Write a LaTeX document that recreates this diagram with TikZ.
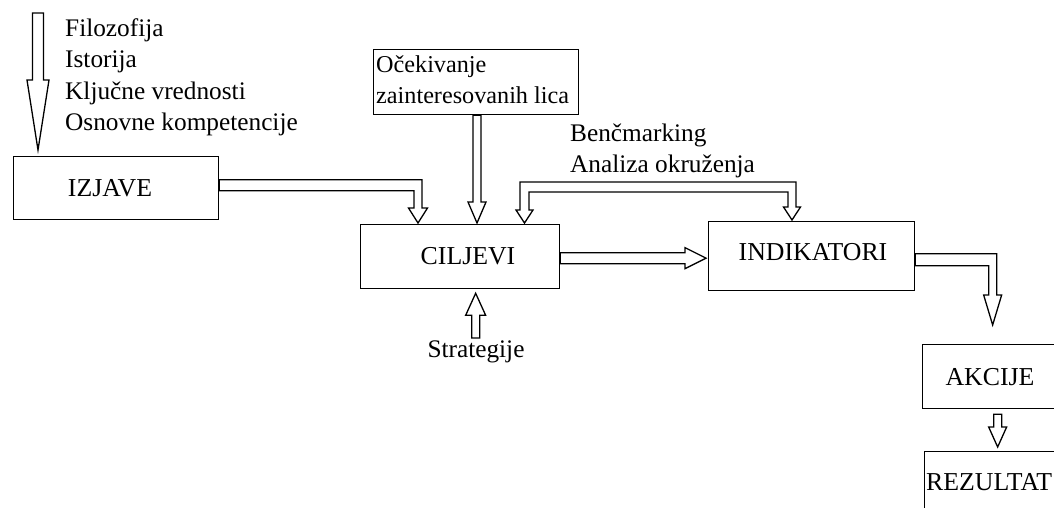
\documentclass[tikz,border=0pt]{standalone}
\usepackage{fontspec}
\setmainfont{Liberation Serif}
\usetikzlibrary{calc}

\tikzset{
  box/.style={draw, line width=1.3pt, inner sep=0pt, anchor=north west},
  txt/.style={inner sep=0pt, font=\fontsize{25.3}{30}\selectfont},
  boxtext/.style={inner sep=0pt, font=\fontsize{24.2}{30}\selectfont},
  boxlabel/.style={inner sep=0pt, font=\fontsize{25.8}{30}\selectfont},
  blk/.style={draw, line width=1.3pt, line join=miter},
}

% block arrow pointing down: tail, tip, shaft half width, head half width, head length
\newcommand\blkdown[5]{\draw[blk] let \p1=(#1), \p2=(#2) in
  (\x2-#3,\y1) -- (\x2-#3,\y2+#5) -- (\x2-#4,\y2+#5) -- (\p2) --
  (\x2+#4,\y2+#5) -- (\x2+#3,\y2+#5) -- (\x2+#3,\y1) -- cycle;}
% block arrow pointing up
\newcommand\blkup[5]{\draw[blk] let \p1=(#1), \p2=(#2) in
  (\x2-#3,\y1) -- (\x2-#3,\y2-#5) -- (\x2-#4,\y2-#5) -- (\p2) --
  (\x2+#4,\y2-#5) -- (\x2+#3,\y2-#5) -- (\x2+#3,\y1) -- cycle;}
% block arrow pointing right
\newcommand\blkright[5]{\draw[blk] let \p1=(#1), \p2=(#2) in
  (\x1,\y2+#3) -- (\x2-#5,\y2+#3) -- (\x2-#5,\y2+#4) -- (\p2) --
  (\x2-#5,\y2-#4) -- (\x2-#5,\y2-#3) -- (\x1,\y2-#3) -- cycle;}
% block arrow going right, then bending down:
% tail, tip, horizontal half thickness, vertical half width, head half width, head length
\newcommand\blkrd[6]{\draw[blk] let \p1=(#1), \p2=(#2) in
  (\x1,\y1+#3) -- (\x2+#4,\y1+#3) -- (\x2+#4,\y2+#6) -- (\x2+#5,\y2+#6) -- (\p2) --
  (\x2-#5,\y2+#6) -- (\x2-#4,\y2+#6) -- (\x2-#4,\y1-#3) -- (\x1,\y1-#3) -- cycle;}

\begin{document}
\begin{tikzpicture}[x=1pt,y=-1pt]
  \useasboundingbox (0,0) rectangle (1054,508);
  \fill[white] (0,0) rectangle (1054,508);
  \clip (0,0) rectangle (1054,508);

  % boxes
  \node[box, minimum width=205pt, minimum height=65pt] (ocek)     at (373,49)  {};
  \node[box, minimum width=205pt, minimum height=63pt] (izjave)   at (13,156)  {};
  \node[box, minimum width=199pt, minimum height=64pt] (ciljevi)  at (360,224) {};
  \node[box, minimum width=206pt, minimum height=69pt] (indik)    at (708,221) {};
  \node[box, minimum width=140pt, minimum height=64pt] (akcije)   at (922,344) {};
  \node[box, minimum width=140pt, minimum height=70pt] (rezultat) at (924,451) {};

  % box labels
  \node[boxlabel, anchor=base] (tIzjave)  at (110,196) {IZJAVE};
  \node[boxlabel, anchor=base] (tCiljevi) at (468,264) {CILJEVI};
  \node[boxlabel, anchor=base] (tIndik)   at (813,260) {INDIKATORI};
  \node[boxlabel, anchor=base] (tAkcije)  at (990,385) {AKCIJE};
  \node[boxlabel, anchor=base west] (tRez) at (926,490) {REZULTAT};
  \node[boxtext, anchor=base west] (tOc1) at (376,73)  {Očekivanje};
  \node[boxtext, anchor=base west] (tOc2) at (376,104) {zainteresovanih lica};

  % free texts
  \node[txt, anchor=base west] (l1) at (65,37)  {Filozofija};
  \node[txt, anchor=base west] (l2) at (65,68)  {Istorija};
  \node[txt, anchor=base west] (l3) at (65,100) {Ključne vrednosti};
  \node[txt, anchor=base west] (l4) at (65,131) {Osnovne kompetencije};
  \node[txt, anchor=base west] (b1) at (570,142) {Benčmarking};
  \node[txt, anchor=base west] (b2) at (570,172) {Analiza okruženja};
  \node[txt, anchor=base] (strat) at (476,357) {Strategije};

  % arrow end points
  \coordinate (fTail) at (38,13);
  \coordinate (fTip)  at ($(izjave.north west)+(25,-6)$);
  \coordinate (oTail) at ($(ocek.south west)+(104,0)$);
  \coordinate (oTip)  at ($(ciljevi.north west)+(117,-1)$);
  \coordinate (iTail) at ($(izjave.east)+(0,-3)$);
  \coordinate (iTip)  at ($(ciljevi.north west)+(58,-1)$);
  \coordinate (bL)    at ($(ciljevi.north west)+(164.5,-1)$);
  \coordinate (bR)    at ($(indik.north west)+(84,-1)$);
  \coordinate (cTail) at ($(ciljevi.east)+(0,1.5)$);
  \coordinate (cTip)  at ($(indik.west)+(-2,2)$);
  \coordinate (kTail) at ($(indik.east)+(0,3.5)$);
  \coordinate (kTip)  at ($(akcije.north)+(0,-19)$);
  \coordinate (aTail) at ($(akcije.south)+(5,5)$);
  \coordinate (aTip)  at ($(rezultat.north)+(3,-4)$);
  \coordinate (sTail) at ($(strat.north)+(-1,-2)$);
  \coordinate (sTip)  at ($(ciljevi.south)+(15.5,4)$);

  % arrows
  \blkdown{fTail}{fTip}{5.5pt}{11pt}{70pt}
  \blkdown{oTail}{oTip}{4pt}{9pt}{21pt}
  \blkrd{iTail}{iTip}{5.5pt}{4pt}{9.5pt}{15pt}
  \blkright{cTail}{cTip}{5.5pt}{10.5pt}{21pt}
  \blkrd{kTail}{kTip}{6pt}{4pt}{9pt}{30pt}
  \blkdown{aTail}{aTip}{4pt}{9pt}{20pt}
  \blkup{sTail}{sTip}{4pt}{10pt}{22pt}

  % two-headed bracket arrow from the environment scan to both boxes
  \draw[blk] let \p1=(bL), \p2=(bR) in
    (\x1-4.5pt,\y1+13pt) -- (\x1-4.5pt,\y1+41pt) -- (\x2+4pt,\y1+41pt) --
    (\x2+4pt,\y2+13pt) -- (\x2+8.5pt,\y2+13pt) -- (\p2) -- (\x2-8.5pt,\y2+13pt) --
    (\x2-4pt,\y2+13pt) -- (\x2-4pt,\y1+31pt) -- (\x1+4.5pt,\y1+31pt) --
    (\x1+4.5pt,\y1+13pt) -- (\x1+8.5pt,\y1+13pt) -- (\p1) -- (\x1-8.5pt,\y1+13pt) -- cycle;
\end{tikzpicture}
\end{document}
